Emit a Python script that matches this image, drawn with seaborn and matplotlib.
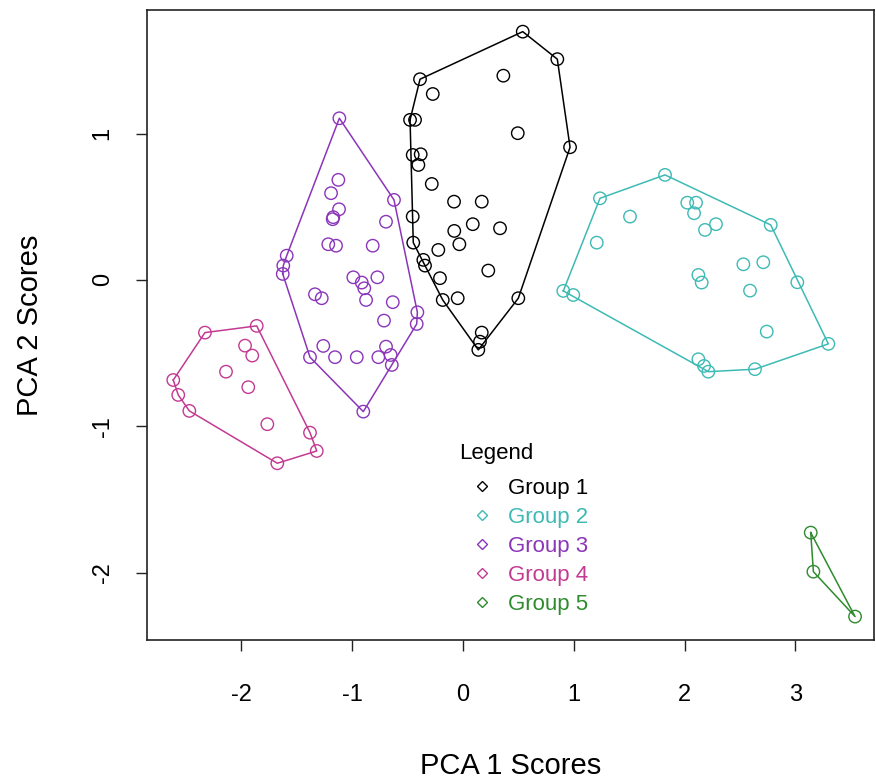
import matplotlib
matplotlib.use("Agg")
import matplotlib.pyplot as plt
import seaborn as sns
import pandas as pd
import numpy as np
from matplotlib.lines import Line2D

# ---- data ----
g1_x = [0.539, 0.851, -0.388, 0.364, -0.273, -0.478, -0.433, 0.494, 0.966, -0.454,
        -0.382, -0.403, -0.282, -0.081, 0.169, -0.454, 0.088, 0.334, -0.079, -0.033,
        -0.449, -0.223, -0.358, -0.343, 0.228, -0.208, -0.183, -0.048, 0.499, 0.169,
        0.153, 0.138]
g1_y = [1.697, 1.509, 1.372, 1.396, 1.271, 1.094, 1.094, 1.003, 0.907, 0.854,
        0.859, 0.786, 0.656, 0.535, 0.535, 0.433, 0.381, 0.353, 0.335, 0.244,
        0.255, 0.205, 0.137, 0.098, 0.064, 0.012, -0.137, -0.125, -0.125, -0.360,
        -0.422, -0.478]

g2_x = [1.823, 1.236, 1.507, 2.024, 2.103, 2.085, 2.283, 2.184, 2.777, 1.207,
        2.530, 2.710, 2.124, 2.154, 3.017, 2.590, 0.905, 0.995, 2.741, 3.297,
        2.124, 2.175, 2.214, 2.635]
g2_y = [0.718, 0.558, 0.433, 0.528, 0.528, 0.456, 0.381, 0.342, 0.376, 0.255,
        0.107, 0.121, 0.034, -0.018, -0.016, -0.073, -0.075, -0.103, -0.353, -0.437,
        -0.542, -0.588, -0.627, -0.610]

g3_x = [-1.116, -1.125, -1.191, -1.119, -1.171, -1.176, -0.623, -0.695, -1.216, -1.146,
        -0.815, -1.591, -1.622, -1.627, -0.990, -0.773, -0.914, -0.891, -1.336, -1.275,
        -0.875, -0.634, -0.412, -0.713, -0.418, -1.261, -0.695, -1.381, -1.155, -0.959,
        -0.764, -0.653, -0.643, -0.900]
g3_y = [1.105, 0.684, 0.593, 0.483, 0.429, 0.415, 0.547, 0.398, 0.244, 0.234,
        0.234, 0.166, 0.098, 0.041, 0.018, 0.018, -0.018, -0.057, -0.098, -0.125,
        -0.137, -0.152, -0.221, -0.278, -0.301, -0.451, -0.456, -0.528, -0.528, -0.528,
        -0.528, -0.513, -0.581, -0.900]

g4_x = [-2.329, -1.862, -1.967, -1.902, -2.139, -2.615, -2.570, -1.938, -2.470, -1.766,
        -1.381, -1.320, -1.676]
g4_y = [-0.360, -0.314, -0.449, -0.517, -0.627, -0.684, -0.786, -0.733, -0.895, -0.986,
        -1.044, -1.169, -1.253]

g5_x = [3.138, 3.162, 3.538]
g5_y = [-1.727, -1.994, -2.301]

group_names = ["Group 1", "Group 2", "Group 3", "Group 4", "Group 5"]
group_colors = ["#000000", "#3DBAB4", "#8B35BA", "#C23A92", "#2E8B2E"]
x_ticks = [-2, -1, 0, 1, 2, 3]
y_ticks = [-2, -1, 0, 1]
legend_title = "Legend"

xs = [g1_x, g2_x, g3_x, g4_x, g5_x]
ys = [g1_y, g2_y, g3_y, g4_y, g5_y]
df = pd.concat([pd.DataFrame({"PC1": x, "PC2": y, "group": n})
                for x, y, n in zip(xs, ys, group_names)], ignore_index=True)


def hull(points):
    pts = sorted(set(points))
    if len(pts) <= 2:
        return pts

    def cross(o, a, b):
        return (a[0] - o[0]) * (b[1] - o[1]) - (a[1] - o[1]) * (b[0] - o[0])
    lower, upper = [], []
    for p in pts:
        while len(lower) >= 2 and cross(lower[-2], lower[-1], p) <= 0:
            lower.pop()
        lower.append(p)
    for p in reversed(pts):
        while len(upper) >= 2 and cross(upper[-2], upper[-1], p) <= 0:
            upper.pop()
        upper.append(p)
    return lower[:-1] + upper[:-1]


plt.rcParams["font.family"] = ["Liberation Sans", "DejaVu Sans"]
fig = plt.figure(figsize=(8.76, 7.81), dpi=100)
ax = fig.add_axes([147 / 876, 1 - 640 / 781, (874 - 147) / 876, (640 - 10) / 781])

for name, col in zip(group_names, group_colors):
    sub = df[df["group"] == name]
    n_before = len(ax.collections)
    sns.scatterplot(data=sub, x="PC1", y="PC2", ax=ax, s=80, marker="o",
                    color=col, legend=False)
    for c in ax.collections[n_before:]:
        c.set_facecolor("none")
        c.set_edgecolor(col)
        c.set_linewidth(1.0)
    h = hull(list(zip(sub["PC1"], sub["PC2"])))
    hx = [p[0] for p in h] + [h[0][0]]
    hy = [p[1] for p in h] + [h[0][1]]
    ax.plot(hx, hy, color=col, lw=1.1)

ax.set_xlim(-2.852, 3.709)
ax.set_ylim(-2.461, 1.845)
ax.set_xticks(x_ticks)
ax.set_yticks(y_ticks)
ax.set_xticklabels([str(v) for v in x_ticks], fontsize=17)
ax.set_yticklabels([str(v) for v in y_ticks], fontsize=17, rotation=90, va="center")
ax.tick_params(axis="x", length=8, width=1, direction="out", pad=24, color="#222222")
ax.tick_params(axis="y", length=8, width=1, direction="out", pad=16, color="#222222")
for sp in ax.spines.values():
    sp.set_linewidth(1.2)
    sp.set_color("#222222")
ax.set_xlabel("PCA 1 Scores", fontsize=21, labelpad=33)
ax.set_ylabel("PCA 2 Scores", fontsize=21, labelpad=34)

# legend title placed as text, entries as a legend below it
ax.text((459 - 147) / 727, (640 - 453) / 630, legend_title, transform=ax.transAxes,
        fontsize=16, ha="left", va="center")
handles = [Line2D([], [], marker="D", ls="none", markersize=5, markerfacecolor="none",
                  markeredgecolor=c, markeredgewidth=1.0) for c in group_colors]
leg = ax.legend(handles, group_names, loc="upper left",
                bbox_to_anchor=((459 - 147) / 727, (640 - 478) / 630),
                frameon=False, fontsize=16,
                handlelength=2.1, handletextpad=0.1, labelspacing=0.36,
                borderpad=0, borderaxespad=0)
for t, c in zip(leg.get_texts(), group_colors):
    t.set_color(c)

fig.savefig("out.png", dpi=100, facecolor="white")
